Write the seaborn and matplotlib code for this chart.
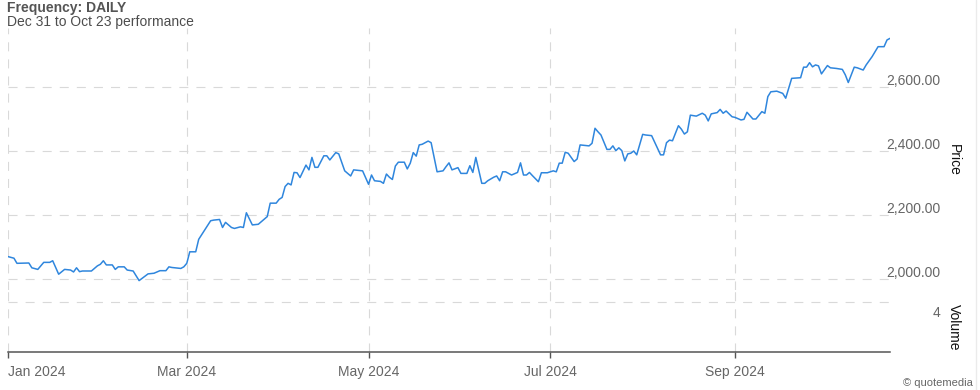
import numpy as np
import pandas as pd
import matplotlib
matplotlib.use("Agg")
import matplotlib.pyplot as plt
import seaborn as sns
from matplotlib.lines import Line2D

# ---------------- data ----------------
start_date = "2024-01-01"
day_offsets = [
    0, 2, 3, 7, 8, 10, 12, 14, 15, 17,
    19, 21, 22, 23, 24, 25, 28, 30, 31, 32,
    33, 35, 36, 37, 39, 40, 42, 44, 45, 47,
    49, 51, 53, 54, 55, 58, 59, 60, 61, 63,
    64, 66, 68, 69, 71, 72, 73, 75, 76, 78,
    79, 80, 82, 84, 85, 87, 88, 90, 91, 92,
    93, 94, 95, 96, 97, 98, 100, 101, 102, 103,
    104, 106, 107, 108, 110, 111, 113, 115, 116, 119,
    121, 122, 123, 125, 126, 127, 128, 129, 130, 131,
    133, 134, 135, 136, 137, 138, 139, 141, 142, 144,
    146, 147, 148, 149, 151, 152, 154, 155, 156, 157,
    159, 160, 161, 163, 164, 165, 166, 167, 169, 171,
    172, 173, 174, 175, 176, 178, 179, 181, 183, 184,
    185, 186, 187, 188, 190, 191, 192, 195, 196, 197,
    198, 199, 201, 202, 203, 204, 205, 206, 207, 208,
    209, 210, 211, 213, 214, 216, 218, 219, 220, 221,
    222, 223, 225, 226, 227, 228, 229, 231, 233, 234,
    235, 236, 238, 239, 240, 241, 243, 244, 246, 247,
    248, 250, 251, 253, 254, 255, 256, 258, 260, 261,
    262, 263, 266, 267, 268, 269, 270, 271, 272, 273,
    275, 276, 278, 280, 281, 282, 284, 285, 287, 288,
    290, 292, 294, 295, 296,
]
prices = [
    2070, 2065, 2049, 2050, 2035, 2030, 2052, 2052, 2057, 2015,
    2030, 2028, 2022, 2035, 2023, 2025, 2025, 2041, 2046, 2057,
    2044, 2044, 2030, 2038, 2038, 2028, 2025, 1995, 2002, 2016,
    2018, 2026, 2026, 2038, 2036, 2033, 2038, 2049, 2085, 2085,
    2124, 2153, 2182, 2184, 2186, 2161, 2177, 2161, 2158, 2163,
    2161, 2207, 2169, 2171, 2179, 2195, 2237, 2237, 2249, 2255,
    2289, 2299, 2294, 2333, 2332, 2317, 2356, 2341, 2380, 2349,
    2349, 2385, 2385, 2372, 2395, 2391, 2338, 2322, 2341, 2338,
    2296, 2325, 2307, 2305, 2299, 2328, 2318, 2311, 2353, 2365,
    2365, 2344, 2362, 2395, 2384, 2419, 2421, 2431, 2426, 2335,
    2338, 2351, 2363, 2341, 2348, 2330, 2330, 2354, 2333, 2380,
    2299, 2299, 2307, 2318, 2322, 2307, 2335, 2335, 2325, 2333,
    2363, 2325, 2325, 2333, 2323, 2304, 2332, 2332, 2338, 2335,
    2362, 2362, 2396, 2393, 2367, 2375, 2419, 2416, 2424, 2471,
    2460, 2450, 2405, 2405, 2416, 2401, 2410, 2401, 2369, 2391,
    2393, 2400, 2388, 2452, 2450, 2448, 2408, 2388, 2388, 2426,
    2434, 2432, 2479, 2468, 2453, 2460, 2512, 2509, 2518, 2512,
    2494, 2516, 2520, 2530, 2518, 2525, 2507, 2505, 2497, 2499,
    2521, 2500, 2500, 2523, 2518, 2570, 2585, 2587, 2580, 2565,
    2596, 2627, 2629, 2662, 2662, 2676, 2663, 2669, 2666, 2641,
    2667, 2660, 2658, 2655, 2638, 2614, 2662, 2660, 2653, 2669,
    2695, 2726, 2726, 2747, 2752,
]
end_date = "2024-10-23"
price_ticks = [2000, 2200, 2400, 2600]
price_labels = ["2,000.00", "2,200.00", "2,400.00", "2,600.00"]
volume_ticks = [4]
volume_labels = ["4"]
month_ticks = ["2024-01-01", "2024-03-01", "2024-05-01", "2024-07-01", "2024-09-01"]
month_labels = ["Jan 2024", "Mar 2024", "May 2024", "Jul 2024", "Sep 2024"]
title_text = "Frequency: DAILY"
subtitle_text = "Dec 31 to Oct 23 performance"
price_axis_title = "Price"
volume_axis_title = "Volume"
credit_text = "\u00a9 quotemedia"

dates = pd.Timestamp(start_date) + pd.to_timedelta(day_offsets, unit="D")
df = pd.DataFrame({"date": dates, "price": prices})

# ---------------- style ----------------
sns.set_style("white")
plt.rcParams["font.family"] = ["Liberation Sans", "DejaVu Sans"]
plt.rcParams["lines.scale_dashes"] = False

W, H = 980, 390
fig = plt.figure(figsize=(W / 100, H / 100), dpi=100)


def rect(l, t, r, b):
    return [l / W, 1 - b / H, (r - l) / W, (b - t) / H]


ax = fig.add_axes(rect(8, 28, 890, 290))
axv = fig.add_axes(rect(8, 290, 890, 352), sharex=ax)

line_color = "#2f86dd"
grid_color = "#d9d9d9"
dash = (0, (6.5, 5.8))
text_gray = "#666666"
fs = 10

sns.lineplot(data=df, x="date", y="price", ax=ax, color=line_color, linewidth=1.1)

# price scale: 0.32 px per unit, 2000 at y=279px
ax.set_ylim(2000 - (290 - 279) / 0.32, 2000 + (279 - 28) / 0.32)
ax.set_xlim(pd.Timestamp(start_date), pd.Timestamp(end_date))
axv.set_ylim(0, 5)

for a in (ax, axv):
    for s in a.spines.values():
        s.set_visible(False)
    a.set_xlabel("")
    a.set_ylabel("")

ax.set_yticks(price_ticks)
axv.set_yticks(volume_ticks)
axv.set_xticks(pd.to_datetime(month_ticks))
axv.set_xticklabels(month_labels)

ax.grid(True, axis="both", color=grid_color, linestyle=dash, linewidth=0.8)
axv.grid(True, axis="both", color=grid_color, linestyle=dash, linewidth=0.8)

ax.tick_params(axis="both", length=0, labelbottom=False, labelleft=False, labelright=False)
axv.tick_params(axis="y", length=0, labelleft=False, labelright=False)
axv.tick_params(axis="x", length=4.5, width=1.0, color="#555555", labelcolor=text_gray,
                labelsize=fs, pad=5, bottom=True)
axv.spines["bottom"].set_visible(True)
axv.spines["bottom"].set_color("#555555")
axv.spines["bottom"].set_linewidth(1.1)

xl = axv.get_xticklabels()
xl[0].set_horizontalalignment("left")

# right-side tick labels
for v, lab in zip(price_ticks, price_labels):
    ax.annotate(lab, xy=(1, v), xycoords=("axes fraction", "data"),
                xytext=(50 * 0.72, 6 * 0.72), textcoords="offset points",
                ha="right", va="center", fontsize=fs, color=text_gray,
                annotation_clip=False)
for v, lab in zip(volume_ticks, volume_labels):
    axv.annotate(lab, xy=(1, v), xycoords=("axes fraction", "data"),
                 xytext=(50 * 0.72, -11 * 0.72), textcoords="offset points",
                 ha="right", va="center", fontsize=fs, color=text_gray,
                 annotation_clip=False)

fig.text(954 / W, 1 - 160 / H, price_axis_title, rotation=270, ha="center", va="center",
         fontsize=fs, color="#111111")
fig.text(954 / W, 1 - 327 / H, volume_axis_title, rotation=270, ha="center", va="center",
         fontsize=fs, color="#111111")

fig.text(7 / W, 1 - 12 / H, title_text, ha="left", va="baseline", fontsize=fs,
         fontweight="bold", color="#555555")
fig.text(7 / W, 1 - 26 / H, subtitle_text, ha="left", va="baseline", fontsize=fs,
         color="#4d4d4d")
fig.text(973 / W, 1 - 383 / H, credit_text, ha="right", va="center", fontsize=8,
         color=text_gray)

fig.add_artist(Line2D([975.5 / W, 975.5 / W], [0, 1], transform=fig.transFigure,
                      color="#ebebeb", linewidth=1))

fig.savefig("out.png", dpi=100)
